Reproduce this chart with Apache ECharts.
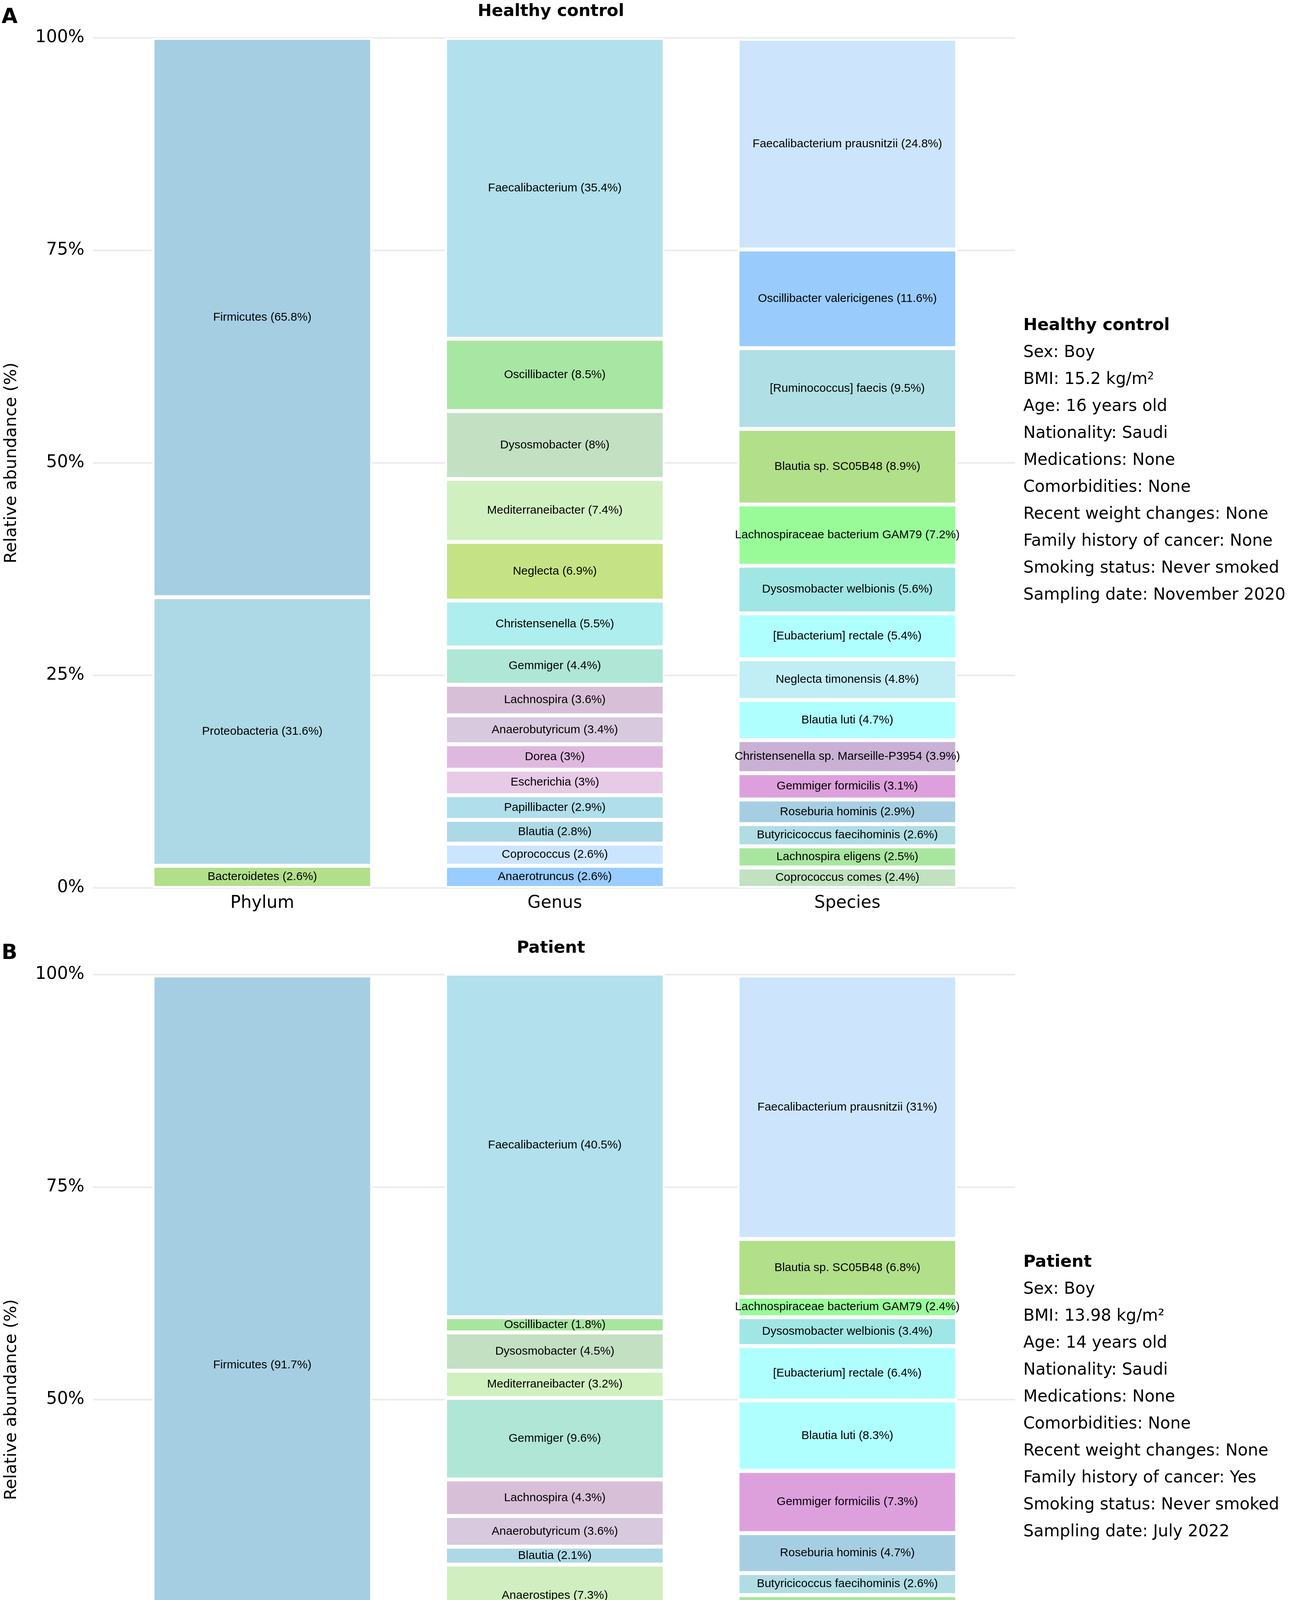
<!DOCTYPE html>
<html>
<head>
<meta charset="utf-8">
<script src="https://cdn.jsdelivr.net/npm/echarts@6/dist/echarts.min.js"></script>
<style>
html, body { margin: 0; background: #fff; }
#main { width: 3299px; height: 4764px; }
</style>
</head>
<body>
<div id="main"></div>
<script>
var levels = ['Phylum', 'Genus', 'Species'];

// Healthy control (lists go from top of the bar to the bottom)
var hcPhylum = ['Firmicutes', 'Proteobacteria', 'Bacteroidetes'];
var hcPhylumPct = [65.8, 31.6, 2.6];
var hcGenus = ['Faecalibacterium', 'Oscillibacter', 'Dysosmobacter', 'Mediterraneibacter', 'Neglecta',
    'Christensenella', 'Gemmiger', 'Lachnospira', 'Anaerobutyricum', 'Dorea', 'Escherichia',
    'Papillibacter', 'Blautia', 'Coprococcus', 'Anaerotruncus'];
var hcGenusPct = [35.4, 8.5, 8, 7.4, 6.9, 5.5, 4.4, 3.6, 3.4, 3, 3, 2.9, 2.8, 2.6, 2.6];
var hcSpecies = ['Faecalibacterium prausnitzii', 'Oscillibacter valericigenes', '[Ruminococcus] faecis',
    'Blautia sp. SC05B48', 'Lachnospiraceae bacterium GAM79', 'Dysosmobacter welbionis',
    '[Eubacterium] rectale', 'Neglecta timonensis', 'Blautia luti', 'Christensenella sp. Marseille-P3954',
    'Gemmiger formicilis', 'Roseburia hominis', 'Butyricicoccus faecihominis', 'Lachnospira eligens',
    'Coprococcus comes'];
var hcSpeciesPct = [24.8, 11.6, 9.5, 8.9, 7.2, 5.6, 5.4, 4.8, 4.7, 3.9, 3.1, 2.9, 2.6, 2.5, 2.4];

// Patient
var ptPhylum = ['Firmicutes', 'Proteobacteria', 'Bacteroidetes', 'Fusobacteria'];
var ptPhylumPct = [91.7, 3.6, 4, 0.6];
var ptGenus = ['Faecalibacterium', 'Oscillibacter', 'Dysosmobacter', 'Mediterraneibacter', 'Gemmiger',
    'Lachnospira', 'Anaerobutyricum', 'Blautia', 'Anaerostipes', 'Lactobacillus', 'Fusicatenibacter',
    'Roseburia', 'Romboutsia', 'Anaeromassilibacillus', 'Sporobacter'];
var ptGenusPct = [40.5, 1.8, 4.5, 3.2, 9.6, 4.3, 3.6, 2.1, 7.3, 6.5, 6.4, 3.6, 2.7, 2.3, 1.8];
var ptSpecies = ['Faecalibacterium prausnitzii', 'Blautia sp. SC05B48', 'Lachnospiraceae bacterium GAM79',
    'Dysosmobacter welbionis', '[Eubacterium] rectale', 'Blautia luti', 'Gemmiger formicilis',
    'Roseburia hominis', 'Butyricicoccus faecihominis', 'Lachnospira eligens', 'Anaerostipes hadrus',
    'Lactobacillus rogosae', 'Fusicatenibacter saccharivorans', 'Anaerobutyricum hallii',
    '[Ruminococcus] gnavus'];
var ptSpeciesPct = [31, 6.8, 2.4, 3.4, 6.4, 8.3, 7.3, 4.7, 2.6, 6.5, 5.6, 4.9, 4.9, 2.7, 2.4];

// fill colours, same order as the lists above
var hcPhylumCol = ['#a6cee3', '#add8e6', '#b2df8a'];
var hcGenusCol = ['#b2e0ec', '#a8e6a3', '#c3e0c3', '#d0f0c0', '#c5e384', '#afeeee', '#afe6d5',
    '#d8bfd8', '#d8c9de', '#dfb8e0', '#e6cae6', '#b0deea', '#add8e6', '#cce5ff', '#99ccff'];
var hcSpeciesCol = ['#cce5fc', '#99ccfc', '#b0dfe5', '#b2df8a', '#98fb98', '#a0e6e4', '#b0ffff',
    '#c0eef4', '#b0ffff', '#c9b0d5', '#dda0dd', '#a6cee3', '#b0dde4', '#a8e6a0', '#c1e1c1'];
var ptPhylumCol = ['#a6cee3', '#add8e6', '#b2df8a', '#dda0dd'];
var ptGenusCol = ['#b2e0ec', '#a8e6a0', '#c3e0c3', '#d0f0c0', '#afe6d5', '#d8bfd8', '#d8c9de',
    '#add8e6', '#d0eec0', '#98fb98', '#c5e384', '#c0eef4', '#b0ffff', '#d8bfd8', '#d8c9de'];
var ptSpeciesCol = ['#cce5fc', '#b2df8a', '#98fb98', '#a0e6e4', '#b0ffff', '#b0ffff', '#dda0dd',
    '#a6cee3', '#b0dde4', '#a8e6a0', '#a0e6e4', '#afeeee', '#b0ffff', '#afe6d5', '#c9b0d5'];

var hcInfo = ['Healthy control', 'Sex: Boy', 'BMI: 15.2 kg/m{sup|2}', 'Age: 16 years old', 'Nationality: Saudi',
    'Medications: None', 'Comorbidities: None', 'Recent weight changes: None',
    'Family history of cancer: None', 'Smoking status: Never smoked', 'Sampling date: November 2020'];
var ptInfo = ['Patient', 'Sex: Boy', 'BMI: 13.98 kg/m\u00b2', 'Age: 14 years old', 'Nationality: Saudi',
    'Medications: None', 'Comorbidities: None', 'Recent weight changes: None',
    'Family history of cancer: Yes', 'Smoking status: Never smoked', 'Sampling date: July 2022'];

var chart = echarts.init(document.getElementById('main'));

// one series per stacking level, bottom segment first
function panelSeries(gridIdx, stackId, cols) {
    var maxN = Math.max.apply(null, cols.map(function (c) { return c.names.length; }));
    var out = [];
    for (var k = 0; k < maxN; k++) {
        var data = cols.map(function (c) {
            var i = c.names.length - 1 - k;
            if (i < 0) return '-';
            return {
                value: c.pct[i],
                itemStyle: { color: c.colors[i] },
                label: { formatter: c.names[i] + ' (' + c.pct[i] + '%)' }
            };
        });
        out.push({
            type: 'bar',
            xAxisIndex: gridIdx,
            yAxisIndex: gridIdx,
            stack: stackId,
            barWidth: 562,
            data: data,
            itemStyle: { borderColor: '#fff', borderWidth: 5 },
            label: {
                show: true,
                position: 'inside',
                fontSize: 30,
                fontFamily: 'Liberation Sans',
                color: '#000'
            },
            emphasis: { disabled: true }
        });
    }
    return out;
}

var series = panelSeries(2, 'hc', [
    { names: hcPhylum, pct: hcPhylumPct, colors: hcPhylumCol },
    { names: hcGenus, pct: hcGenusPct, colors: hcGenusCol },
    { names: hcSpecies, pct: hcSpeciesPct, colors: hcSpeciesCol }
]).concat(panelSeries(3, 'pt', [
    { names: ptPhylum, pct: ptPhylumPct, colors: ptPhylumCol },
    { names: ptGenus, pct: ptGenusPct, colors: ptGenusCol },
    { names: ptSpecies, pct: ptSpeciesPct, colors: ptSpeciesCol }
]));

var axisFont = { fontSize: 44, fontFamily: 'DejaVu Sans', color: '#000' };
var panelTop = [97, 2495];
var panelH = 2176;

function infoBlock(lines, y0) {
    return lines.map(function (t, i) {
        return {
            type: 'text',
            x: 2619,
            y: y0 + i * 69,
            style: {
                text: t,
                fontSize: i === 0 ? 43 : 42,
                fontWeight: i === 0 ? 'bold' : 'normal',
                fontFamily: 'DejaVu Sans',
                fill: '#000',
                textAlign: 'left',
                textVerticalAlign: 'middle',
                rich: {
                    sup: { fontSize: 26, fontFamily: 'DejaVu Sans', fill: '#000', verticalAlign: 'top' }
                }
            }
        };
    });
}

function headText(t, x, y, size) {
    return {
        type: 'text',
        x: x,
        y: y,
        style: {
            text: t,
            fontSize: size,
            fontWeight: 'bold',
            fontFamily: 'DejaVu Sans',
            fill: '#000',
            textAlign: x < 100 ? 'left' : 'center',
            textVerticalAlign: 'middle'
        }
    };
}

option = {
    backgroundColor: '#fff',
    animation: false,
    // grids 0,1 carry the y scale and gridlines, grids 2,3 carry the bars
    grid: [
        { left: 222, top: panelTop[0], width: 2376, height: panelH },
        { left: 222, top: panelTop[1], width: 2376, height: panelH },
        { left: 297, top: panelTop[0], width: 2246, height: panelH },
        { left: 297, top: panelTop[1], width: 2246, height: panelH }
    ],
    xAxis: [0, 1, 2, 3].map(function (i) {
        return {
            type: 'category',
            gridIndex: i,
            data: levels,
            show: i > 1,
            axisLine: { show: false },
            axisTick: { show: false },
            splitLine: { show: false },
            axisLabel: Object.assign({ margin: 18 }, axisFont)
        };
    }),
    yAxis: [0, 1, 2, 3].map(function (i) {
        return {
            type: 'value',
            gridIndex: i,
            min: 0,
            max: 100,
            interval: 25,
            show: i < 2,
            name: 'Relative abundance (%)',
            nameLocation: 'middle',
            nameRotate: 90,
            nameGap: 187,
            nameTextStyle: { fontSize: 43, fontFamily: 'DejaVu Sans', color: '#000' },
            axisLine: { show: false },
            axisTick: { show: false },
            axisLabel: Object.assign({ formatter: '{value}%', margin: 22 }, axisFont),
            splitLine: { show: i < 2, lineStyle: { color: '#ebebeb', width: 4 } }
        };
    }),
    graphic: [
        headText('A', 4, 45, 53),
        headText('Healthy control', 1410, 30, 43),
        headText('B', 4, 2441, 53),
        headText('Patient', 1410, 2428, 43)
    ].concat(infoBlock(hcInfo, 834), infoBlock(ptInfo, 3232)),
    series: series
};

chart.setOption(option);
</script>
</body>
</html>
